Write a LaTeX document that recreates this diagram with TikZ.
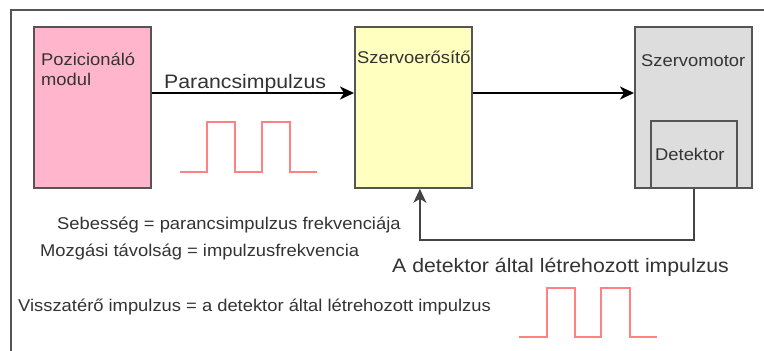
\documentclass[tikz,border=0pt]{standalone}
\usepackage{fontspec}
\setmainfont{Liberation Sans}
\newfontfamily\widesans[FakeStretch=1.08]{Liberation Sans}
\newfontfamily\widersans[FakeStretch=1.09]{Liberation Sans}
\usetikzlibrary{arrows.meta}
\definecolor{pinkfill}{HTML}{FFB6CC}
\definecolor{yellowfill}{HTML}{FFFFC0}
\definecolor{greyfill}{HTML}{DDDDDD}
\definecolor{edge}{HTML}{555555}
\definecolor{txt}{HTML}{333333}
\definecolor{pulse}{HTML}{FF6B6B}
\begin{document}
\begin{tikzpicture}[x=1pt,y=-1pt,
  blockbox/.style={draw=edge, line width=1.8pt, anchor=north west, inner sep=0pt},
  boxlabel/.style={anchor=base west, inner sep=0pt, text=txt, font=\widesans\fontsize{17}{20}\selectfont},
  biglabel/.style={anchor=base west, inner sep=0pt, text=txt, font=\widersans\fontsize{19.5}{24}\selectfont},
  note/.style={anchor=base west, inner sep=0pt, text=txt, font=\widesans\fontsize{17}{21}\selectfont},
  flow/.style={draw=black, line width=1.8pt, -{Stealth[length=14pt,width=13pt,inset=4pt]}},
  feedback/.style={draw=edge!80!black, line width=1.8pt, -{Stealth[length=14pt,width=13pt,inset=4pt]}},
  pulseline/.style={draw=pulse, line width=1.8pt, opacity=0.85}]
\useasboundingbox (0,0) rectangle (764,351);
\fill[white] (0,0) rectangle (764,351);

% outer frame (only left and top edges fall inside the page)
\draw[edge, line width=1.8pt] (11,351) -- (11,10) -- (764,10);

% blocks
\node[blockbox, fill=pinkfill, minimum width=117pt, minimum height=161pt] (pos) at (33,26) {};
\node[blockbox, fill=yellowfill, minimum width=117pt, minimum height=161pt] (amp) at (354,26) {};
\node[blockbox, fill=greyfill, minimum width=117pt, minimum height=161pt] (motor) at (634,26) {};
\node[blockbox, fill=greyfill, minimum width=86pt, minimum height=67pt] (det) at (650,120) {};

% block labels
\node[boxlabel] (posA) at (41,65) {Pozicionáló};
\node[boxlabel] (posB) at (41,85) {modul};
\node[boxlabel] (ampL) at (357,63) {Szervoerősítő};
\node[boxlabel] (motL) at (641,66) {Szervomotor};
\node[boxlabel] (detL) at (655,160) {Detektor};

% signal flow
\draw[flow] ([yshift=-67pt]pos.north east) -- ([yshift=-67pt]amp.north west);
\draw[flow] ([yshift=-67pt]amp.north east) -- ([yshift=-67pt]motor.north west);
\draw[feedback] (det.south) -- ++(0,51) -| ([xshift=6.5pt]amp.south);

\node[biglabel] (cmd) at (164,88) {Parancsimpulzus};
\node[biglabel] (detpulse) at (392,272) {A detektor által létrehozott impulzus};

% notes
\node[note] (speed) at (57,229) {Sebesség = parancsimpulzus frekvenciája};
\node[note] (dist) at (40,256) {Mozgási távolság = impulzusfrekvencia};
\node[note] (ret) at (18,311) {Visszatérő impulzus = a detektor által létrehozott impulzus};

% pulse trains
\draw[pulseline] (180,172) -- (207,172) -- (207,122) -- (235,122) -- (235,172)
  -- (262,172) -- (262,122) -- (290,122) -- (290,172) -- (317,172);
\draw[pulseline] (519,337) -- (547,337) -- (547,288) -- (575,288) -- (575,337)
  -- (601,337) -- (601,288) -- (630,288) -- (630,337) -- (657,337);
\end{tikzpicture}
\end{document}
